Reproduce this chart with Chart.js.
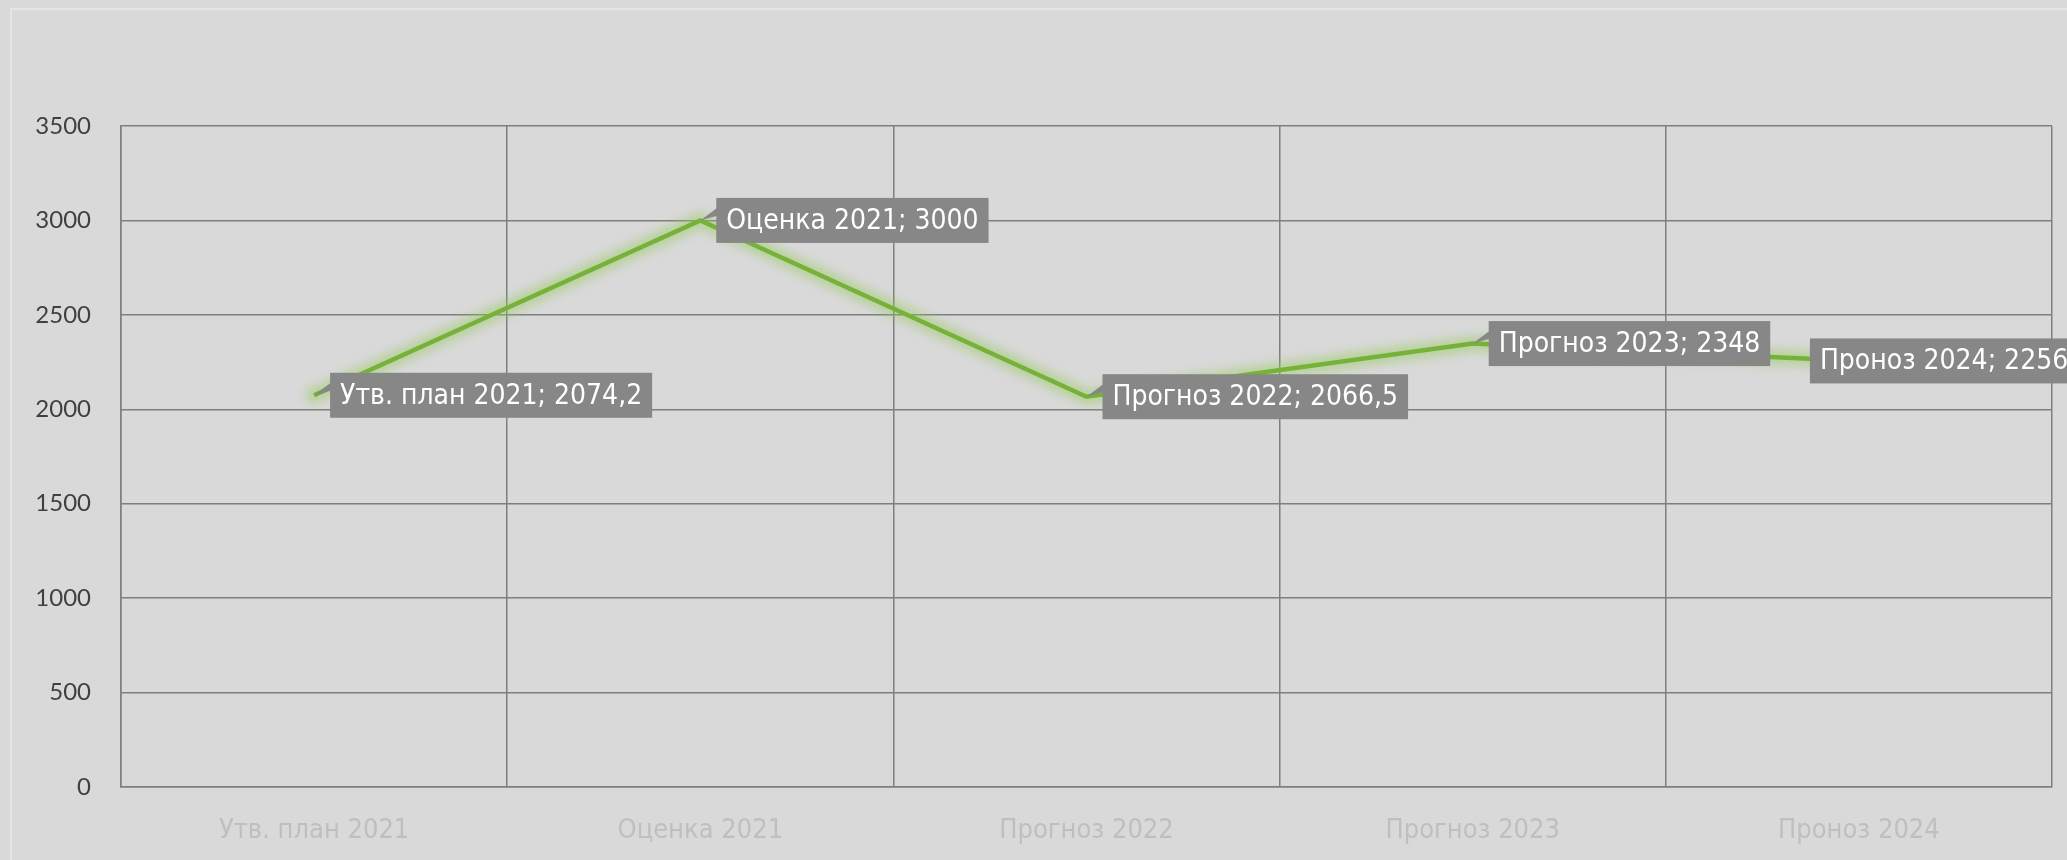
<!DOCTYPE html>
<html>
<head>
<meta charset="utf-8">
<script src="https://cdn.jsdelivr.net/npm/chart.js@4"></script>
<style>
  html, body { margin: 0; padding: 0; background: #d9d9d9; }
  #wrap { width: 2067px; height: 860px; }
</style>
</head>
<body>
<div id="wrap"><canvas id="chart" width="2067" height="860"></canvas></div>
<script>
const categories = ['Утв. план 2021', 'Оценка 2021', 'Прогноз 2022', 'Прогноз 2023', 'Проноз 2024'];
const values = [2074.2, 3000, 2066.5, 2348, 2256];
const yTicks = [0, 500, 1000, 1500, 2000, 2500, 3000, 3500];

// label box shift from its point (px), last one sits left of the point
const labelShift = [16, 16, 16, 16, -49];

const fmt = v => String(v).replace('.', ',');

const bgPlugin = {
    id: 'bg',
    beforeDraw(chart) {
        const c = chart.ctx;
        c.save();
        c.fillStyle = '#d9d9d9';
        c.fillRect(0, 0, chart.width, chart.height);
        c.strokeStyle = '#e4e4e4';
        c.lineWidth = 2;
        c.strokeRect(11, 9, chart.width + 20, chart.height + 20);
        c.restore();
    }
};

// soft green halo: draw the line once more, wide and faint, under the real one
const glowPlugin = {
    id: 'glow',
    beforeDatasetDraw(chart) {
        const c = chart.ctx;
        const pts = chart.getDatasetMeta(0).data;
        c.save();
        c.lineJoin = 'round';
        c.lineCap = 'round';
        [[24, 0.12], [16, 0.18], [10, 0.25]].forEach(([lw, a]) => {
            c.strokeStyle = 'rgba(150, 205, 90, ' + a + ')';
            c.lineWidth = lw;
            c.filter = 'blur(3px)';
            c.beginPath();
            pts.forEach((p, i) => i ? c.lineTo(p.x, p.y) : c.moveTo(p.x, p.y));
            c.stroke();
        });
        c.restore();
    }
};

const labelPlugin = {
    id: 'callouts',
    afterDatasetsDraw(chart) {
        const c = chart.ctx;
        const meta = chart.getDatasetMeta(0);
        c.save();
        c.font = '28px "Liberation Sans Narrow", "DejaVu Sans Condensed", sans-serif';
        c.textBaseline = 'middle';
        meta.data.forEach((pt, i) => {
            const txt = categories[i] + '; ' + fmt(values[i]);
            const w = c.measureText(txt).width + 20;
            const h = 45;
            const bx = pt.x + labelShift[i];
            const by = pt.y - h / 2;
            c.fillStyle = '#878787';
            if (labelShift[i] > 0) {
                c.beginPath();
                c.moveTo(pt.x, pt.y);
                c.lineTo(bx + 14, by);
                c.lineTo(bx, by + 18);
                c.closePath();
                c.fill();
            }
            c.fillRect(bx, by, w, h);
            c.fillStyle = '#ffffff';
            c.fillText(txt, bx + 10, pt.y + 1);
        });
        c.restore();
    }
};

const ctx = document.getElementById('chart').getContext('2d');
const chart = new Chart(ctx, {
    type: 'line',
    data: {
        labels: categories,
        datasets: [{
            data: values,
            borderColor: '#76b23a',
            borderWidth: 4.5,
            pointRadius: 0,
            tension: 0,
            fill: false
        }]
    },
    options: {
        responsive: false,
        animation: false,
        events: [],
        layout: { padding: { top: 126, right: 15, left: 0, bottom: 0 } },
        plugins: { legend: { display: false }, tooltip: { enabled: false } },
        scales: {
            x: {
                offset: true,
                grid: { color: '#7f7f7f', lineWidth: 1.5, drawTicks: false, offset: true },
                border: { color: '#7f7f7f', width: 1.5 },
                ticks: {
                    color: '#bfbfbf',
                    padding: 28,
                    maxRotation: 0,
                    font: { family: '"Liberation Sans Narrow", "DejaVu Sans Condensed", sans-serif', size: 27 }
                },
                afterFit(s) { s.height = 73; }
            },
            y: {
                min: 0,
                max: 3500,
                afterBuildTicks(s) { s.ticks = yTicks.map(v => ({ value: v })); },
                grid: { color: '#7f7f7f', lineWidth: 1.5, drawTicks: false },
                border: { color: '#7f7f7f', width: 1.5 },
                ticks: {
                    color: '#404040',
                    padding: 30,
                    callback: v => String(v),
                    font: { family: 'Lato, sans-serif', size: 24 }
                },
                afterFit(s) { s.width = 121; }
            }
        }
    },
    plugins: [bgPlugin, glowPlugin, labelPlugin]
});
</script>
</body>
</html>
